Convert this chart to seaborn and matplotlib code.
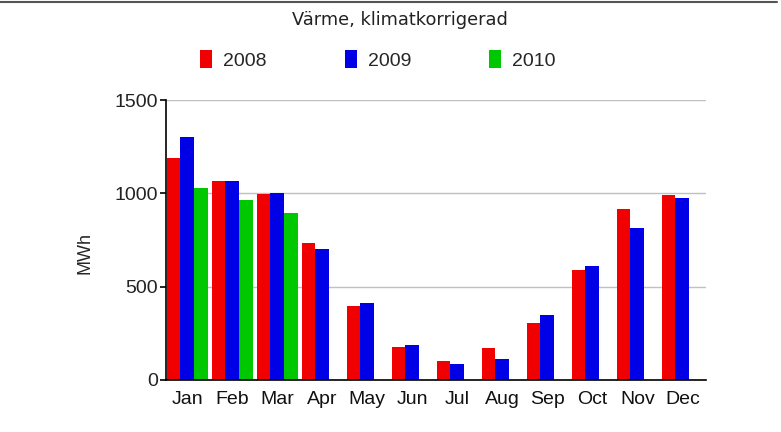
import numpy as np
import pandas as pd
import matplotlib
matplotlib.use('Agg')
import matplotlib.pyplot as plt
import seaborn as sns
from matplotlib.patches import Patch
from matplotlib.lines import Line2D

# data (MWh)
months = ['Jan', 'Feb', 'Mar', 'Apr', 'May', 'Jun',
          'Jul', 'Aug', 'Sep', 'Oct', 'Nov', 'Dec']
years = ['2008', '2009', '2010']
mwh_2008 = [1190, 1066, 998, 736, 398, 177, 103, 169, 303, 591, 914, 991]
mwh_2009 = [1300, 1066, 1004, 702, 414, 185, 84, 110, 346, 609, 813, 973]
mwh_2010 = [1030, 964, 896, None, None, None, None, None, None, None, None, None]
yticks = [0, 500, 1000, 1500]

colors = ['#f00000', '#0000e6', '#00c800']

# long format table for seaborn
rows = []
for year, vals in zip(years, [mwh_2008, mwh_2009, mwh_2010]):
    for m, v in zip(months, vals):
        rows.append({'month': m, 'year': year, 'mwh': np.nan if v is None else v})
df = pd.DataFrame(rows)

sns.set_style('white')
plt.rcParams['font.family'] = ['Liberation Sans', 'DejaVu Sans']

fig = plt.figure(figsize=(7.81, 4.32), dpi=100)
ax = fig.add_axes([166 / 781, 1 - 380 / 432, 540 / 781, 280 / 432])

sns.barplot(data=df, x='month', y='mwh', hue='year', order=months,
            hue_order=years, palette=colors, width=0.92, gap=0,
            saturation=1, errorbar=None, ax=ax, legend=False,
            linewidth=0, edgecolor='none', zorder=3)

ax.set_xlim(-0.475, 11.525)
ax.set_ylim(0, 1500)
ax.set_yticks(yticks)
ax.set_yticklabels([str(t) for t in yticks], fontsize=14, color='#222222')
ax.set_xticks(range(len(months)))
ax.set_xticklabels(months, fontsize=14, color='#111111')
ax.tick_params(axis='x', which='major', length=0, pad=8)
ax.set_xticks([k + 0.525 for k in range(len(months))], minor=True)
ax.tick_params(axis='x', which='minor', direction='inout', length=8,
               width=1.2, color='black')
ax.tick_params(axis='y', direction='out', length=4, width=1.2,
               color='black', left=True, pad=2)
ax.set_xlabel('')
ax.set_ylabel('MWh', fontsize=13)
ax.yaxis.set_label_coords(-0.135, 0.454)

ax.yaxis.grid(True, color='#c0c0c0', linewidth=1, zorder=0)
ax.set_axisbelow(True)
for s in ['top', 'right']:
    ax.spines[s].set_visible(False)
for s in ['left', 'bottom']:
    ax.spines[s].set_color('black')
    ax.spines[s].set_linewidth(1.2)
    ax.spines[s].set_zorder(4)

fig.text(400 / 781, 1 - 20 / 432, 'Värme, klimatkorrigerad', ha='center',
         va='center', fontsize=12.8, family=['DejaVu Sans'], color='#222222')

handles = [Patch(facecolor=c, edgecolor='none') for c in colors]
fig.legend(handles, years, loc='center', bbox_to_anchor=(378 / 781, 1 - 60 / 432),
           ncol=3, frameon=False, fontsize=14, handlelength=0.62,
           handleheight=0.98, handletextpad=0.57, columnspacing=4.0,
           borderpad=0)

# thin dark rule along the top edge
fig.add_artist(Line2D([0, 0.995], [1 - 2 / 432, 1 - 2 / 432],
                      transform=fig.transFigure, color='#555555', linewidth=1.5))

fig.savefig('out.png', dpi=100)
